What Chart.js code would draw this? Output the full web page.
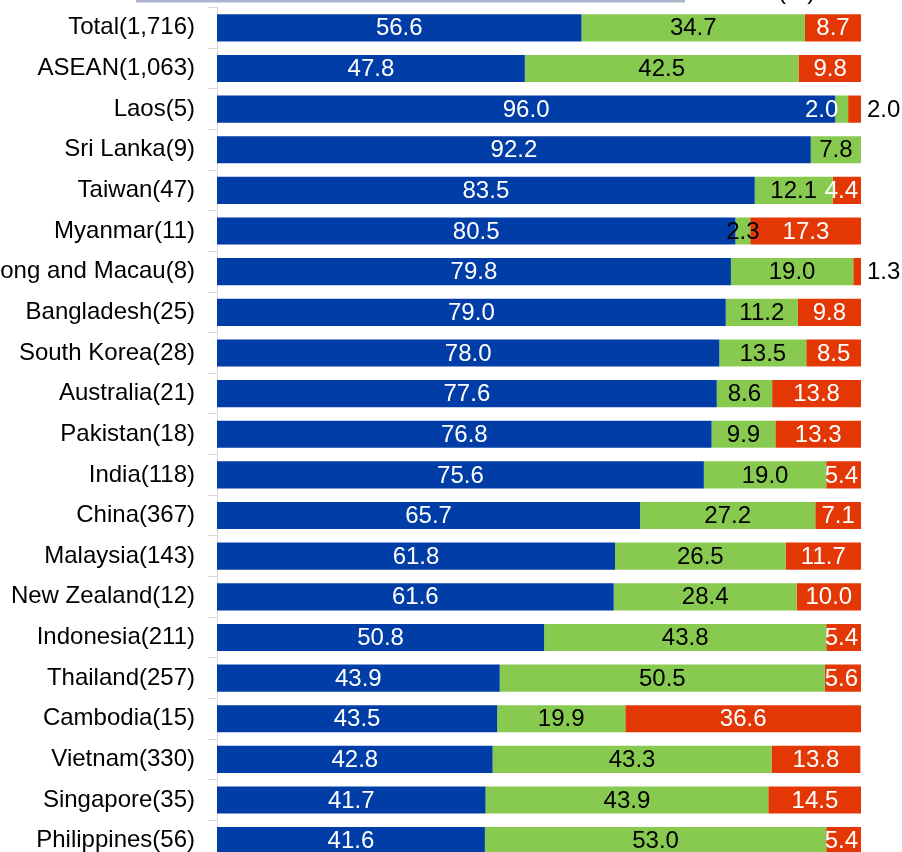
<!DOCTYPE html>
<html>
<head>
<meta charset="utf-8">
<script src="https://cdn.jsdelivr.net/npm/chart.js@4.4.0/dist/chart.umd.min.js"></script>
<style>
  html, body { margin: 0; padding: 0; background: #fff; overflow: hidden; }
  #wrap { position: relative; width: 902px; height: 852px; overflow: hidden; }
  canvas { display: block; }
</style>
</head>
<body>
<div id="wrap"><canvas id="chart" width="902" height="866"></canvas></div>
<script>
// Regions with number of responding firms
const categories = [
  'Total(1,716)', 'ASEAN(1,063)', 'Laos(5)', 'Sri Lanka(9)', 'Taiwan(47)',
  'Myanmar(11)', 'Hong Kong and Macau(8)', 'Bangladesh(25)', 'South Korea(28)',
  'Australia(21)', 'Pakistan(18)', 'India(118)', 'China(367)', 'Malaysia(143)',
  'New Zealand(12)', 'Indonesia(211)', 'Thailand(257)', 'Cambodia(15)',
  'Vietnam(330)', 'Singapore(35)', 'Philippines(56)'
];

// Share of firms (%)
const profit = [
  56.6, 47.8, 96.0, 92.2, 83.5, 80.5, 79.8, 79.0, 78.0, 77.6, 76.8,
  75.6, 65.7, 61.8, 61.6, 50.8, 43.9, 43.5, 42.8, 41.7, 41.6
];
const breakEven = [
  34.7, 42.5, 2.0, 7.8, 12.1, 2.3, 19.0, 11.2, 13.5, 8.6, 9.9,
  19.0, 27.2, 26.5, 28.4, 43.8, 50.5, 19.9, 43.3, 43.9, 53.0
];
const loss = [
  8.7, 9.8, 2.0, 0, 4.4, 17.3, 1.3, 9.8, 8.5, 13.8, 13.3,
  5.4, 7.1, 11.7, 10.0, 5.4, 5.6, 36.6, 13.8, 14.5, 5.4
];

const FONT = "'Liberation Sans', Arial, sans-serif";
const FONT_SIZE = 24;
const COLORS = ['#003DA6', '#88CA50', '#E33806'];
const LABEL_COLORS = ['#ffffff', '#000000', '#ffffff'];

// Header strip and unit mark above the plot
const headerPlugin = {
  id: 'header',
  beforeDraw(chart) {
    const ctx = chart.ctx;
    ctx.save();
    ctx.fillStyle = '#A9B4CB';
    ctx.fillRect(136, 0, 549, 2.5);
    ctx.fillStyle = '#000';
    ctx.font = FONT_SIZE + 'px ' + FONT;
    ctx.textAlign = 'left';
    ctx.textBaseline = 'alphabetic';
    ctx.fillText('(%)', 778, -1);
    ctx.restore();
  }
};

// Value labels on each segment
const valueLabels = {
  id: 'valueLabels',
  afterDatasetsDraw(chart) {
    const ctx = chart.ctx;
    const area = chart.chartArea;
    ctx.save();
    ctx.font = FONT_SIZE + 'px ' + FONT;
    ctx.textBaseline = 'middle';
    chart.data.datasets.forEach((ds, di) => {
      const meta = chart.getDatasetMeta(di);
      meta.data.forEach((bar, i) => {
        const v = ds.data[i];
        if (!v) return;
        const text = v.toFixed(1);
        const w = ctx.measureText(text).width;
        const y = bar.y + 1;
        const start = Math.min(bar.base, bar.x);
        const end = Math.max(bar.base, bar.x);
        let color = LABEL_COLORS[di];
        let x = (start + end) / 2;
        ctx.textAlign = 'center';
        if (di === 2 && v < 3) {
          // thin last segment: label outside the bar
          color = '#000';
          ctx.textAlign = 'left';
          x = area.right + 6;
        } else if (di === 1 && v < 3 && loss[i] < 3) {
          // thin middle segment next to a thin one: label inside the first bar
          color = '#fff';
          ctx.textAlign = 'right';
          x = start + 3;
        } else if (x + w / 2 > area.right - 3) {
          x = area.right - 3 - w / 2;
        }
        ctx.fillStyle = color;
        ctx.fillText(text, x, y);
      });
    });
    ctx.restore();
  }
};

const makeSet = (label, data, idx) => ({
  label,
  data,
  backgroundColor: COLORS[idx],
  borderWidth: 0,
  barPercentage: 0.667,
  categoryPercentage: 1.0
});

new Chart(document.getElementById('chart'), {
  type: 'bar',
  data: {
    labels: categories,
    datasets: [
      makeSet('Profit', profit, 0),
      makeSet('Break-even', breakEven, 1),
      makeSet('Loss', loss, 2)
    ]
  },
  options: {
    indexAxis: 'y',
    responsive: false,
    animation: false,
    devicePixelRatio: 1,
    layout: { padding: { top: 7.5, bottom: 5, left: 0, right: 41 } },
    plugins: {
      legend: { display: false },
      tooltip: { enabled: false }
    },
    scales: {
      x: {
        stacked: true,
        min: 0,
        max: 100,
        display: false
      },
      y: {
        stacked: true,
        position: 'left',
        grid: {
          display: true,
          drawOnChartArea: false,
          drawTicks: true,
          tickLength: 9,
          color: '#D9D9D9',
          offset: true
        },
        border: { display: true, color: '#D9D9D9', width: 1 },
        ticks: {
          color: '#000',
          padding: 13,
          font: { family: FONT, size: FONT_SIZE },
          autoSkip: false
        },
        afterFit(scale) {
          scale.width = 217;
          // rows fill the full height; no extra room for half-labels
          scale.paddingTop = 0;
          scale.paddingBottom = 0;
        }
      }
    }
  },
  plugins: [headerPlugin, valueLabels]
});
</script>
</body>
</html>
